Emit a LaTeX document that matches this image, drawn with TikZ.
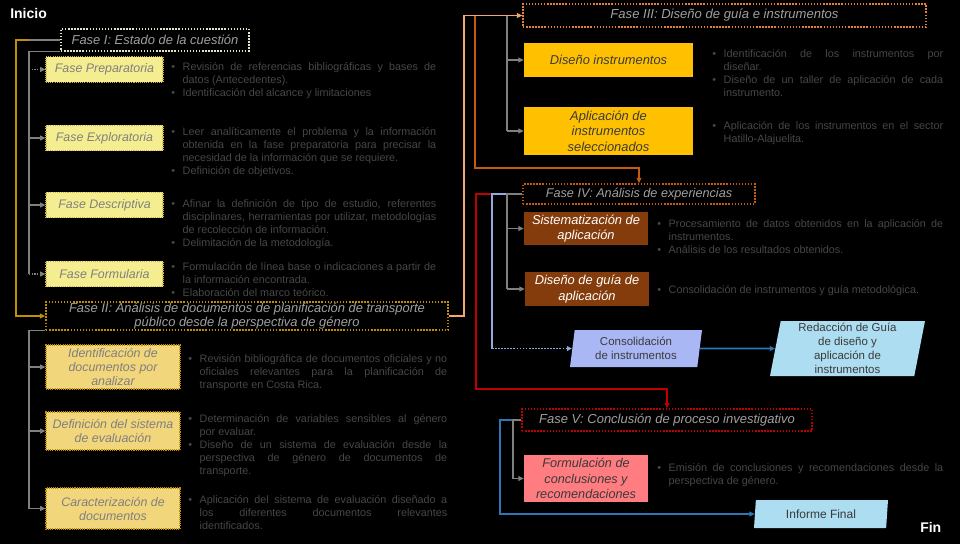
\documentclass[tikz,border=0pt]{standalone}
\usepackage{fontspec}
\setmainfont{Liberation Sans}
\usetikzlibrary{arrows.meta,shapes.geometric}
\newcommand\fsz[2]{\fontsize{#1}{#2}\selectfont}
\newcommand\nohyph{\hyphenpenalty=10000\relax\exhyphenpenalty=10000\relax}
\newlength\myhang
\setlength\myhang{8.6pt}
\newcommand\myitem[1]{\par\noindent\hangindent=\myhang\hangafter=1\makebox[\myhang][l]{\textbullet}#1\par}
\definecolor{bultxt}{HTML}{474747}
\definecolor{hdrtxt}{HTML}{A0A0A0}
\definecolor{boxtxt}{HTML}{7F7F7F}
\definecolor{darktxt}{HTML}{3A3A3A}
\definecolor{yfill}{HTML}{F5EE90}
\definecolor{ydraw}{HTML}{C8B448}
\definecolor{gfill}{HTML}{F2D67C}
\definecolor{gdraw}{HTML}{BF9000}
\definecolor{ofill}{HTML}{FFC000}
\definecolor{brfill}{HTML}{843C0C}
\definecolor{sfill}{HTML}{FF7C80}
\definecolor{lfill}{HTML}{A9B8F5}
\definecolor{cfill}{HTML}{ADDDF0}
\definecolor{fonedraw}{HTML}{E6E6C8}
\definecolor{fthreedraw}{HTML}{E8803C}
\definecolor{ffourdraw}{HTML}{C55A11}
\definecolor{ffivedraw}{HTML}{C00000}
\definecolor{goldl}{HTML}{BF9000}
\definecolor{orl}{HTML}{F4A672}
\definecolor{brl}{HTML}{C55A11}
\definecolor{redl}{HTML}{C00000}
\definecolor{lavl}{HTML}{8FAADC}
\definecolor{bluel}{HTML}{2E75B6}
\definecolor{grayl}{HTML}{808080}
\begin{document}
\begin{tikzpicture}[x=0.75pt,y=-0.75pt,
  >={Triangle[length=4pt,width=3.6pt]},
  hdr/.style={draw, fill=black, line width=1.1pt, dash pattern=on 1.1pt off 1.2pt, inner sep=0pt, align=center, text=hdrtxt, font=\itshape\fsz{9.7}{10}},
  pbox/.style={inner sep=0pt, align=center, font=\itshape\fsz{9.3}{10.5}},
  ybox/.style={pbox, fill=yfill, draw=ydraw, line width=0.8pt, dash pattern=on 0.8pt off 0.8pt, text=boxtxt, minimum width=87.75pt, minimum height=19pt},
  gbox/.style={pbox, fill=gfill, draw=gdraw, line width=0.8pt, dash pattern=on 0.8pt off 0.8pt, text=boxtxt, minimum width=100.5pt},
  obox/.style={pbox, fill=ofill, text=darktxt, minimum width=126.75pt, font=\itshape\fsz{9.65}{11.5}},
  brbox/.style={pbox, fill=brfill, text=white, minimum width=93pt, font=\itshape\fsz{9.65}{11.8}},
  sbox/.style={pbox, fill=sfill, text=darktxt, minimum width=93pt, font=\itshape\fsz{9.5}{11.8}},
  para/.style={trapezium, trapezium left angle=78, trapezium right angle=102, trapezium stretches body=true, inner sep=0pt, align=center, text=darktxt, font=\fsz{8.6}{10.2}},
  btxt/.style={anchor=north west, inner sep=0pt, align=justify, text=bultxt, font=\fsz{8.1}{9.75}\nohyph},
  gline/.style={draw=grayl, line width=1pt},
  goldline/.style={draw=goldl, line width=1.3pt},
  oline/.style={draw=orl, line width=1.3pt},
  brline/.style={draw=brl, line width=1.3pt},
  redline/.style={draw=redl, line width=1.3pt},
  lavline/.style={draw=lavl, line width=1.3pt},
  blueline/.style={draw=bluel, line width=1.3pt},
  lbl/.style={inner sep=0pt, anchor=base west, text=white, font=\bfseries\fsz{10.5}{12}}
]
\fill[black] (0,0) rectangle (960,544);
\useasboundingbox (0,0) rectangle (960,544);

% labels
\node[lbl] (ini) at (10,18) {Inicio};
\node[lbl] (fin) at (920,532) {Fin};

% ---------- Fase I ----------
\node[hdr, draw=fonedraw, minimum width=141pt, minimum height=16.5pt] (f1) at (155,40) {Fase I: Estado de la cuestión};
\node[ybox] (prep) at (104.5,69.5) {Fase Preparatoria};
\node[ybox] (expl) at (104.5,138) {Fase Exploratoria};
\node[ybox] (desc) at (104.5,205) {Fase Descriptiva};
\node[ybox] (form) at (104.5,274) {Fase Formularia};

\node[btxt, text width=198.75pt] (prept) at (171,57) {\myitem{Revisión de referencias bibliográficas y bases de\linebreak datos (Antecedentes).}\myitem{Identificación del alcance y limitaciones}};
\node[btxt, text width=198.75pt] (explt) at (171,122) {\myitem{Leer analíticamente el problema y la información\linebreak obtenida en la fase preparatoria para precisar la\linebreak necesidad de la información que se requiere.}\myitem{Definición de objetivos.}};
\node[btxt, text width=198.75pt] (desct) at (171,194) {\myitem{Afinar la definición de tipo de estudio, referentes\linebreak disciplinares, herramientas por utilizar, metodologías\linebreak de recolección de información.}\myitem{Delimitación de la metodología.}};
\node[btxt, text width=198.75pt] (formt) at (171,257) {\myitem{Formulación de línea base o indicaciones a partir de\linebreak la información encontrada.}\myitem{Elaboración del marco teórico.}};

% ---------- Fase II ----------
\node[hdr, draw=gdraw, minimum width=301.5pt, minimum height=21pt] (f2) at (247,316) {Fase II: Análisis de documentos de planificación de transporte\\público desde la perspectiva de género};
\node[gbox, minimum height=33pt] (iden) at (113,367) {Identificación de\\documentos por\\analizar};
\node[gbox, minimum height=28.5pt] (defi) at (113,431) {Definición del sistema\\de evaluación};
\node[gbox, minimum height=30.75pt] (cara) at (113,508.5) {Caracterización de\\documentos};

\node[btxt, text width=194.25pt] (ident) at (188,349) {\myitem{Revisión bibliográfica de documentos oficiales y no\linebreak oficiales relevantes para la planificación de\linebreak transporte en Costa Rica.}};
\node[btxt, text width=194.25pt] (defit) at (188,409) {\myitem{Determinación de variables sensibles al género\linebreak por evaluar.}\myitem{Diseño de un sistema de evaluación desde la\linebreak perspectiva de género de documentos de\linebreak transporte.}};
\node[btxt, text width=194.25pt] (carat) at (188,490) {\myitem{Aplicación del sistema de evaluación diseñado a\linebreak los diferentes documentos relevantes\linebreak identificados.}};

% ---------- Fase III ----------
\node[hdr, draw=fthreedraw, minimum width=302.25pt, minimum height=17.25pt, font=\itshape\fsz{9.8}{11}] (f3) at (724.5,15.5) {Fase III: Diseño de guía e instrumentos};
\node[obox, minimum height=25.5pt] (disi) at (608.5,60) {Diseño instrumentos};
\node[obox, minimum height=36pt] (apli) at (608.5,131) {Aplicación de\\instrumentos\\seleccionados};
\node[btxt, text width=173.25pt] (disit) at (712,44) {\myitem{Identificación de los instrumentos por\linebreak diseñar.}\myitem{Diseño de un taller de aplicación de cada\linebreak instrumento.}};
\node[btxt, text width=173.25pt] (aplit) at (712,116) {\myitem{Aplicación de los instrumentos en el sector\linebreak Hatillo-Alajuelita.}};

% ---------- Fase IV ----------
\node[hdr, draw=ffourdraw, minimum width=174pt, minimum height=15pt, font=\itshape\fsz{9.5}{10}] (f4) at (639,194) {Fase IV: Análisis de experiencias};
\node[brbox, minimum height=24.75pt] (sist) at (586,228.5) {Sistematización de\\aplicación};
\node[brbox, minimum height=25.5pt] (dgui) at (587,289) {Diseño de guía de\\aplicación};
\node[btxt, text width=214.5pt] (sistt) at (657,214) {\myitem{Procesamiento de datos obtenidos en la aplicación de\linebreak instrumentos.}\myitem{Análisis de los resultados obtenidos.}};
\node[btxt, text width=214.5pt] (dguit) at (657,280) {\myitem{Consolidación de instrumentos y guía metodológica.}};

\node[para, fill=lfill, minimum width=99pt, minimum height=27.75pt] (cons) at (636,348.5) {Consolidación\\de instrumentos};
\node[para, fill=cfill, minimum width=116.25pt, minimum height=41.25pt, font=\fsz{8.6}{10.5}] (reda) at (847.5,348.5) {Redacción de Guía\\de diseño y\\aplicación de\\instrumentos};

% ---------- Fase V ----------
\node[hdr, draw=ffivedraw, minimum width=217.5pt, minimum height=16.5pt, font=\itshape\fsz{9.75}{10}] (f5) at (667,420) {Fase V: Conclusión de proceso investigativo};
\node[sbox, minimum height=35.25pt] (fcon) at (586,478.5) {Formulación de\\conclusiones y\\recomendaciones};
\node[btxt, text width=214.5pt] (fcont) at (657,458) {\myitem{Emisión de conclusiones y recomendaciones desde la\linebreak perspectiva de género.}};
\node[para, fill=cfill, minimum width=100.5pt, minimum height=21pt, font=\fsz{9}{10}] (info) at (821,514) {Informe Final};

% ---------- connectors ----------
\coordinate (gA) at (16,0);
\coordinate (gB) at (29,0);
\coordinate (gC) at (464,0);
\coordinate (gD) at (475,168);
\coordinate (gE) at (507,0);
\coordinate (gF) at (492,0);
\coordinate (gG) at (476,389);
\coordinate (gH) at (500,0);
\coordinate (gI) at (513,0);

% Fase I -> Fase II
\draw[goldline,->] (f1.west) -| (gA |- f2.west) -- (f2.west);
\draw[gline] (f1.west) -- (gB |- f1.west);
\draw[gline] (f1.south west) -| (gB |- form.west);
\draw[gline,->,densely dotted] (gB |- prep.west) -- (prep.west);
\draw[gline,->] (gB |- expl.west) -- (expl.west);
\draw[gline,->] (gB |- desc.west) -- (desc.west);
\draw[gline,->,densely dotted] (gB |- form.west) -- (form.west);

% Fase II subtree
\draw[gline] (f2.south west) -| (gB |- cara.west);
\draw[gline,->] (gB |- iden.west) -- (iden.west);
\draw[gline,->] (gB |- defi.west) -- (defi.west);
\draw[gline,->] (gB |- cara.west) -- (cara.west);

% Fase III subtree
\draw[gline] (f3.west) -| (gE |- apli.west);
\draw[gline,->] (gE |- disi.west) -- (disi.west);
\draw[gline,->] (gE |- apli.west) -- (apli.west);

% Fase III -> Fase IV
\draw[brline,->] (f3.west) -| (gD) -| (f4.north);
% Fase II -> Fase III
\draw[oline,->] (f2.east) -| (gC |- f3.west) -- (f3.west);

% Fase IV
\draw[redline,->] (f4.west) -| (gG) -| (f5.north);
\draw[lavline] (f4.west) -| (gF |- cons.west);
\draw[lavline,->,densely dotted] (gF |- cons.west) -- (cons.west);
\draw[gline] (f4.west) -| (gE |- dgui.west);
\draw[gline,->] (gE |- sist.west) -- (sist.west);
\draw[gline,->] (gE |- dgui.west) -- (dgui.west);
\draw[blueline,->] (cons.east) -- (reda.west);

% Fase V
\draw[blueline,->] (f5.west) -| (gH |- info.west) -- (info.west);
\draw[gline] (f5.west) -| (gI |- fcon.west);
\draw[gline,->] (gI |- fcon.west) -- (fcon.west);
\end{tikzpicture}
\end{document}
